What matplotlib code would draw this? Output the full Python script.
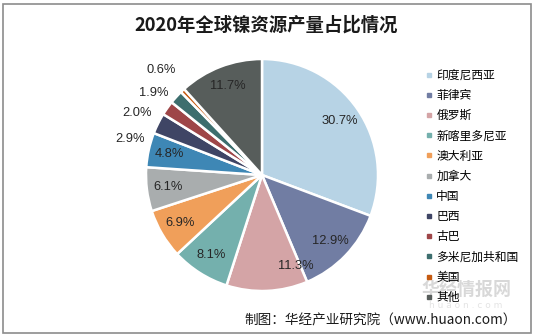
import numpy as np
import matplotlib.pyplot as plt
from matplotlib.patches import Rectangle
from matplotlib.lines import Line2D

plt.rcParams['font.family'] = ['Noto Sans CJK SC', 'DejaVu Sans']

countries = ['印度尼西亚', '菲律宾', '俄罗斯', '新喀里多尼亚', '澳大利亚', '加拿大',
             '中国', '巴西', '古巴', '多米尼加共和国', '美国', '其他']
shares = [30.7, 12.9, 11.3, 8.1, 6.9, 6.1, 4.8, 2.9, 2.0, 1.9, 0.6, 11.7]
colors = ['#b7d3e5', '#717da3', '#d4a4a6', '#74b0ad', '#f09f5a', '#a9adae',
          '#3e87b5', '#3f4565', '#9e4648', '#3d6e6e', '#c55a11', '#575d5b']

# label placement: (radius, angle shift in degrees) per slice
label_pos = {2: (0.84, 18)}
outside = {7: (1.18, 11), 8: (1.20, 9), 9: (1.17, 5), 10: (1.25, 0.6)}

W, H = 535, 336
fig = plt.figure(figsize=(W / 100, H / 100), dpi=100)
fig.patch.set_facecolor('white')

cx, cy, r = 262, 175, 116
ax = fig.add_axes([(cx - r) / W, (H - cy - r) / H, 2 * r / W, 2 * r / H])
wedges, _ = ax.pie(shares, colors=colors, startangle=90, counterclock=False,
                   wedgeprops=dict(edgecolor='white', linewidth=1.8))
ax.set_xlim(-1, 1)
ax.set_ylim(-1, 1)
ax.set_aspect('equal')

for i, w in enumerate(wedges):
    mid = (w.theta1 + w.theta2) / 2
    txt = f'{shares[i]:.1f}%'
    if i in outside:
        rad, shift = outside[i]
    else:
        rad, shift = label_pos.get(i, (0.82, 0))
    a = np.deg2rad(mid + shift)
    ax.text(rad * np.cos(a), rad * np.sin(a), txt, ha='center', va='center',
            fontsize=9.3, family=['Liberation Sans'], color='#262626')

fig.text(266 / W, 1 - 25 / H, '2020年全球镍资源产量占比情况', ha='center', va='center',
         fontsize=13.2, fontweight='bold', color='#1a1a1a')

# legend
handles = [Line2D([], [], marker='s', linestyle='none', markersize=3.5,
                  markerfacecolor=c, markeredgecolor=c) for c in colors]
fig.legend(handles, countries, loc='upper left',
           bbox_to_anchor=(421 / W, 1 - 64 / H), frameon=False,
           fontsize=8.5, handlelength=0.5, handletextpad=0.4,
           labelspacing=0.61, borderaxespad=0)

# watermark
fig.text(466 / W, 1 - 290 / H, '华经情报网', ha='center', va='center',
         fontsize=13, fontweight='bold', color='#cccccc', alpha=0.75)
fig.text(466 / W, 1 - 305 / H, 'h u a o n . c o m', ha='center', va='center',
         fontsize=6.5, color='#dddddd', alpha=0.8, family=['DejaVu Sans'])

fig.text(517 / W, 1 - 320 / H, '制图：华经产业研究院（www.huaon.com）',
         ha='right', va='center', fontsize=9.8, color='#1a1a1a')

fig.add_artist(Rectangle((3 / W, 3 / H), (W - 7) / W, (H - 7) / H,
                         transform=fig.transFigure, fill=False,
                         edgecolor='#8c8c8c', linewidth=1.2))

fig.savefig('out.png', dpi=100)
